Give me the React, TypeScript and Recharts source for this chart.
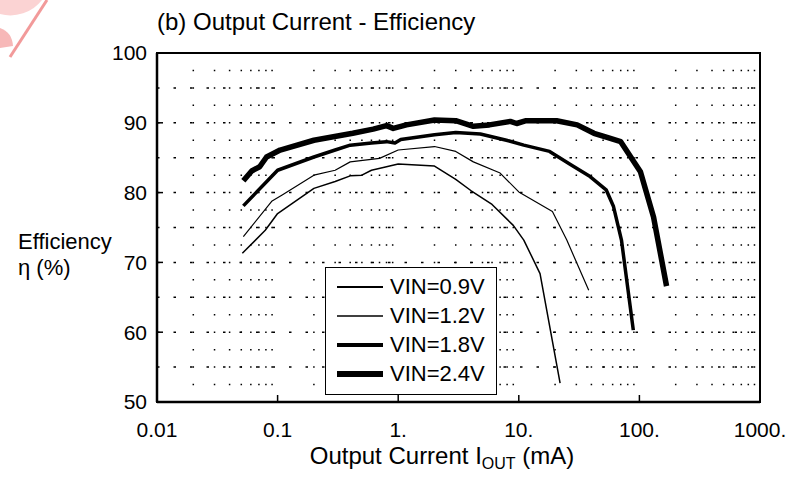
import React from 'react';
import { LineChart, Line, XAxis, YAxis, ReferenceLine, ReferenceArea, Legend } from 'recharts';

const FONT = '"Liberation Sans", Arial, sans-serif';

// axis ticks
const xTicks = [0.01, 0.1, 1, 10, 100, 1000];
const xTickLabels = ['0.01', '0.1', '1.', '10.', '100.', '1000.'];
const yTicks = [50, 60, 70, 80, 90, 100];
const yGridLines = [55, 60, 65, 70, 75, 80, 85, 90, 95];
const decades = [0.01, 0.1, 1, 10, 100];
const minorSteps = [2, 3, 4, 5, 6, 7, 8, 9];
const xGridLines = decades.flatMap((d) => minorSteps.map((m) => +(d * m).toPrecision(3)));

// VIN = 0.9V
const iout09 = [0.051, 0.079, 0.1, 0.2, 0.3, 0.4, 0.5, 0.6, 0.8, 1.0, 2.0, 3.0, 4.0, 6.0, 9.0, 11, 15, 22];
const eff09 = [71.3, 74.6, 77.0, 80.6, 81.6, 82.4, 82.5, 83.2, 83.7, 84.1, 83.8, 81.9, 80.3, 78.3, 75.3, 73.2, 68.4, 52.7];

// VIN = 1.2V
const iout12 = [0.052, 0.09, 0.11, 0.2, 0.3, 0.4, 0.7, 1.0, 2.0, 3.0, 4.2, 7.0, 10, 19, 25, 38];
const eff12 = [73.7, 78.8, 79.7, 82.5, 83.2, 84.4, 84.9, 86.1, 86.6, 85.9, 84.4, 82.8, 80.1, 77.3, 73.2, 66.0];

// VIN = 1.8V
const iout18 = [0.052, 0.1, 0.2, 0.3, 0.4, 0.6, 0.8, 0.94, 1.05, 2.0, 3.0, 4.8, 7.9, 11, 18, 27, 39, 53, 61, 71, 89];
const eff18 = [78.1, 83.2, 85.1, 86.1, 86.8, 87.1, 87.3, 87.1, 87.6, 88.3, 88.6, 88.4, 87.5, 86.8, 85.9, 84.0, 82.3, 80.4, 78.0, 73.2, 60.3];

// VIN = 2.4V
const iout24 = [0.052, 0.061, 0.071, 0.081, 0.105, 0.2, 0.42, 0.62, 0.8, 0.91, 1.17, 2.0, 3.0, 4.2, 5.7, 8.5, 9.6, 11.5, 20.6, 30.5, 42, 54, 70, 102, 131, 168];
const eff24 = [81.7, 83.1, 83.7, 85.1, 86.1, 87.5, 88.5, 89.1, 89.6, 89.2, 89.7, 90.4, 90.3, 89.5, 89.7, 90.2, 89.9, 90.3, 90.3, 89.7, 88.5, 87.9, 87.3, 83.0, 76.5, 66.6];

const toPoints = (xs: number[], ys: number[]) => xs.map((x, i) => ({ x, y: ys[i] }));

const series = [
  { name: 'VIN=0.9V', data: toPoints(iout09, eff09), width: 1.5 },
  { name: 'VIN=1.2V', data: toPoints(iout12, eff12), width: 1.2 },
  { name: 'VIN=1.8V', data: toPoints(iout18, eff18), width: 3.5 },
  { name: 'VIN=2.4V', data: toPoints(iout24, eff24), width: 5.5 },
];

function YLabel() {
  return (
    <g fontFamily={FONT} fontSize={22} fill="#000">
      <text x={18} y={249}>Efficiency</text>
      <text x={18} y={275}>η (%)</text>
    </g>
  );
}

function XLabel() {
  return (
    <text x={442} y={464} textAnchor="middle" fontFamily={FONT} fontSize={24} fill="#000">
      Output Current I
      <tspan dy={5} fontSize={16}>OUT</tspan>
      <tspan dy={-5}> (mA)</tspan>
    </text>
  );
}

function LegendBox() {
  return (
    <div
      style={{
        border: '1.5px solid #000',
        background: '#fff',
        padding: '4px 8px 6px 11px',
        fontFamily: FONT,
        fontSize: 22,
        width: 151,
      }}
    >
      {series.map((s) => (
        <div key={s.name} style={{ display: 'flex', alignItems: 'center', height: 29 }}>
          <svg width={46} height={10} style={{ marginRight: 7 }}>
            <line x1={0} y1={5} x2={46} y2={5} stroke="#000" strokeWidth={s.width + 0.5} strokeLinecap="round" />
          </svg>
          <span>{s.name}</span>
        </div>
      ))}
    </div>
  );
}

export default function App() {
  return (
    <div style={{ position: 'absolute', left: 0, top: 0, width: 800, height: 479, background: '#fff' }}>
      <svg width={60} height={60} style={{ position: 'absolute', left: 0, top: 0 }}>
        <path d="M0 0 H42 A40 40 0 0 1 0 14 Z" fill="#fbd3d3" />
        <line x1={47} y1={0} x2={10} y2={57} stroke="#f29a9a" strokeWidth={3} />
        <path d="M0 28 Q12 32 13 46 L0 48 Z" fill="#f7b8b8" />
      </svg>
      <div
        style={{
          position: 'absolute',
          left: 157,
          top: 9,
          fontFamily: FONT,
          fontSize: 24,
          lineHeight: '26px',
          color: '#000',
          whiteSpace: 'nowrap',
          zIndex: 2,
        }}
      >
        (b) Output Current - Efficiency
      </div>
      <LineChart width={800} height={479} margin={{ top: 53, right: 40, bottom: 47, left: 0 }}>
        <XAxis
          type="number"
          dataKey="x"
          scale="log"
          domain={[0.01, 1000]}
          ticks={xTicks}
          allowDataOverflow
          height={30}
          tickFormatter={(v: number) => xTickLabels[xTicks.indexOf(v)] ?? String(v)}
          tick={{ fontSize: 21, fill: '#000', fontFamily: FONT }}
          tickSize={-7}
          tickMargin={27}
          tickLine={{ stroke: '#000', strokeWidth: 1.5 }}
          axisLine={{ stroke: '#000', strokeWidth: 2.5 }}
          label={<XLabel />}
        />
        <YAxis
          type="number"
          dataKey="y"
          domain={[50, 100]}
          ticks={yTicks}
          width={157}
          allowDataOverflow
          tick={{ fontSize: 21, fill: '#000', fontFamily: FONT }}
          tickSize={-6}
          tickMargin={16}
          tickLine={{ stroke: '#000', strokeWidth: 1.5 }}
          axisLine={{ stroke: '#000', strokeWidth: 2.5 }}
          label={<YLabel />}
        />
        {xGridLines.map((v) => (
          <ReferenceLine
            key={'vx' + v}
            x={v}
            stroke="#000"
            strokeWidth={1.5}
            strokeDasharray="1.5 15.95"
            strokeDashoffset={0.75}
          />
        ))}
        {yGridLines.map((v) => (
          <ReferenceLine key={'hy' + v} y={v} stroke="#000" strokeWidth={1.5} strokeDasharray="2.5 14" />
        ))}
        <ReferenceArea x1={0.01} x2={1000} y1={50} y2={100} fill="none" stroke="#000" strokeWidth={2} />
        {series.map((s) => (
          <Line
            key={s.name}
            data={s.data}
            dataKey="y"
            name={s.name}
            type="linear"
            stroke="#000"
            strokeWidth={s.width}
            strokeLinejoin="round"
            dot={false}
            activeDot={false}
            isAnimationActive={false}
          />
        ))}
        <Legend
          layout="vertical"
          verticalAlign="middle"
          align="center"
          wrapperStyle={{ left: 325, top: 267, width: 'auto' }}
          content={<LegendBox />}
        />
      </LineChart>
    </div>
  );
}
